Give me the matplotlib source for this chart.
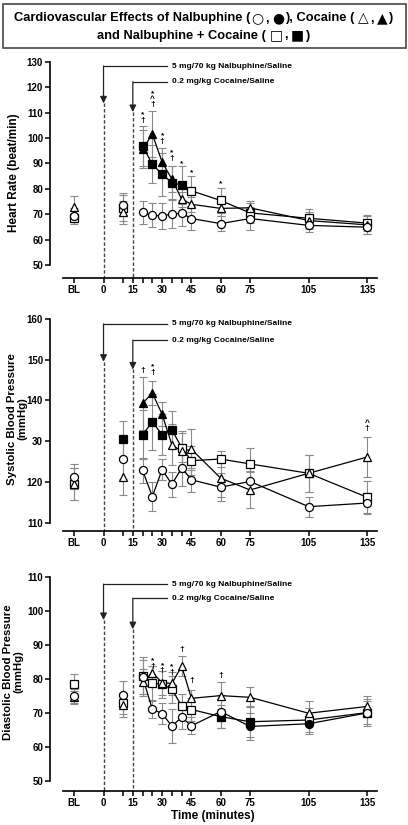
import matplotlib
matplotlib.use('Agg')
import matplotlib.pyplot as plt
from matplotlib.patches import Rectangle

plt.rcParams['font.family'] = ['Liberation Sans', 'DejaVu Sans']
plt.rcParams['font.weight'] = 'bold'

# time points (BL drawn at -15 min)
times = [-15, 10, 20, 25, 30, 35, 40, 45, 60, 75, 105, 135]
tick_pos = [-15, 0, 10, 15, 20, 25, 30, 35, 40, 45, 60, 75, 105, 135]
tick_lab = ['BL', '0', '', '15', '', '', '30', '', '', '45', '60', '75', '105', '135']

# heart rate (beat/min)
hr_nal = [69.3, 73.7, 70.7, 69.6, 69.3, 70.1, 70.4, 68.3, 66.3, 68.3, 65.6, 64.9]
hr_nal_se = [3, 4.5, 4.5, 4.8, 5.3, 5.5, 5, 4.5, 3, 4.5, 2.5, 2.5]
hr_nal_fill = [0, 0, 0, 0, 0, 0, 0, 0, 0, 0, 0, 0]
hr_coc = [73.0, 70.7, 95.5, 101.5, 90.5, 83.8, 75.9, 73.9, 72.3, 72.5, 67.5, 65.8]
hr_coc_se = [4, 4.5, 7.5, 9, 5.5, 5, 3, 3, 3, 2.5, 3.5, 3.5]
hr_coc_fill = [0, 0, 1, 1, 1, 1, 0, 0, 0, 0, 0, 0]
hr_mix = [68.4, 72.4, 96.8, 89.6, 85.7, 82.4, 81.5, 79.2, 75.4, 70.5, 68.4, 66.5]
hr_mix_se = [1.5, 5, 8, 7.5, 8.5, 6.5, 7.5, 6, 5, 4, 3.5, 3]
hr_mix_fill = [0, 0, 1, 1, 1, 1, 1, 0, 0, 0, 0, 0]
hr_marks = [(20, 108.0, '*\n†'), (25, 115.2, '*\n^\n†'), (30, 99.7, '*\n†'),
            (35, 93.0, '*\n†'), (40, 89.8, '*'), (45, 86.3, '*'), (60, 82.0, '*')]

# systolic blood pressure (mmHg)
sbp_nal = [121.3, 125.6, 122.8, 116.4, 123.0, 119.4, 123.4, 120.5, 118.7, 120.1, 113.9, 114.8]
sbp_nal_se = [3, 5, 3, 3.5, 2.5, 3, 4.5, 3, 3.5, 2.5, 2.5, 2.5]
sbp_nal_fill = [0, 0, 0, 0, 0, 0, 0, 0, 0, 0, 0, 0]
sbp_coc = [119.5, 121.3, 139.3, 141.8, 136.6, 129.1, 127.5, 128.0, 120.9, 118.0, 122.1, 126.1]
sbp_coc_se = [4, 4.5, 6.5, 3, 3, 5, 5, 5, 4.5, 4.5, 4.5, 5]
sbp_coc_fill = [0, 0, 1, 1, 1, 0, 0, 0, 0, 0, 0, 0]
sbp_mix = [119.5, 130.5, 131.6, 134.7, 131.6, 132.8, 128.4, 125.2, 125.6, 124.4, 122.1, 116.2]
sbp_mix_se = [4, 4.5, 6, 7, 5, 4.5, 3.5, 3.5, 2, 4, 4.5, 4]
sbp_mix_fill = [0, 1, 1, 1, 1, 1, 0, 0, 0, 0, 0, 0]
sbp_marks = [(20, 147.3, '†'), (25, 147.6, '*\n†'), (135, 133.7, '^\n†')]

# diastolic blood pressure (mmHg)
dbp_nal = [75.0, 75.3, 80.5, 71.1, 69.8, 66.1, 68.7, 66.2, 70.4, 66.0, 66.8, 70.0]
dbp_nal_se = [2, 4, 5, 2.5, 3, 5, 3.5, 2.5, 5, 4, 3, 4]
dbp_nal_fill = [0, 0, 0, 0, 0, 0, 0, 0, 0, 1, 1, 0]
dbp_coc = [74.6, 72.3, 79.0, 81.9, 78.9, 78.7, 83.8, 74.3, 75.1, 74.6, 69.9, 71.9]
dbp_coc_se = [2, 3.5, 4, 2, 3.5, 3.5, 3, 2.5, 4, 3, 3.5, 3]
dbp_coc_fill = [0, 0, 0, 0, 0, 0, 0, 0, 0, 0, 0, 0]
dbp_mix = [78.4, 72.8, 81.0, 78.9, 78.4, 77.0, 72.0, 71.0, 68.9, 67.4, 67.9, 70.1]
dbp_mix_se = [3, 3, 5.5, 5, 4, 4, 3.5, 3.5, 3.5, 4.5, 3.5, 3.5]
dbp_mix_fill = [0, 0, 0, 0, 0, 0, 0, 0, 1, 1, 0, 1]
dbp_marks = [(25, 84.5, '*\n†'), (30, 83.2, '*\n†'), (35, 82.8, '*\n†'),
             (40, 88.6, '†'), (45, 79.5, '†'), (60, 81.0, '†')]

arrow1 = '5 mg/70 kg Nalbuphine/Saline'
arrow2 = '0.2 mg/kg Cocaine/Saline'

# title pieces: (text, uses symbol font, space after)
title1 = [('Cardiovascular Effects of Nalbuphine (', 0, 0), ('○', 1, 0), (',', 0, 1),
          ('●', 1, 0), ('), Cocaine (', 0, 1), ('△', 1, 0), (',', 0, 1), ('▲', 1, 0), (')', 0, 0)]
title2 = [('and Nalbuphine + Cocaine (', 0, 1), ('□', 1, 0), (',', 0, 1), ('■', 1, 0), (')', 0, 0)]

W, H = 408, 825
fig = plt.figure(figsize=(W / 100, H / 100), dpi=100)


def px_axes(top, bottom):
    # axes rectangle from pixel rows
    return fig.add_axes([50 / W, 1 - bottom / H, 327 / W, (bottom - top) / H])


def draw_series(ax, y, se, fill, marker, ms):
    ax.errorbar(times, y, yerr=se, fmt='none', ecolor='#8a8a8a', elinewidth=0.8,
                capsize=3, capthick=0.8, zorder=2)
    ax.plot(times[2:], y[2:], color='black', lw=0.9, zorder=3)
    for t, v, f in zip(times, y, fill):
        ax.plot(t, v, marker=marker, ms=ms, mec='black', mew=0.9,
                mfc='black' if f else 'white', zorder=4, clip_on=False)


def setup(ax, ylo, yhi, ystep, ybottom, ytop, ylabels=None):
    ax.set_xlim(-27.4, 140)
    ax.set_ylim(ybottom, ytop)
    for s in ['top', 'right']:
        ax.spines[s].set_visible(False)
    ax.spines['left'].set_bounds(ylo, yhi)
    ax.spines['bottom'].set_bounds(-20.7, 140)
    for s in ['left', 'bottom']:
        ax.spines[s].set_linewidth(1.2)
    yt = list(range(ylo, yhi + 1, ystep))
    ax.set_yticks(yt)
    if ylabels:
        ax.set_yticklabels(ylabels)
    ax.set_xticks(tick_pos)
    ax.set_xticklabels(tick_lab)
    ax.tick_params(axis='both', labelsize=7, width=1.1, length=3.5, pad=1.5)


def arrows(ax, h1, t1, h2, t2, ybottom):
    for x, h, t, lab in [(0, h1, t1, arrow1), (15, h2, t2, arrow2)]:
        ax.plot([x, 32.5], [h, h], color='#222', lw=0.9, zorder=1)
        ax.annotate('', xy=(x, t), xytext=(x, h),
                    arrowprops=dict(arrowstyle='-|>', color='#222', lw=0.9,
                                    mutation_scale=10, shrinkA=0, shrinkB=0))
        ax.plot([x, x], [t, ybottom], color='#444', lw=1.0, ls=(0, (2.5, 1.5)), zorder=1)
        ax.text(35, h, lab, fontsize=6, va='center', ha='left')


def marks(ax, lst):
    for t, v, s in lst:
        ax.text(t, v, s, fontsize=6, ha='center', va='center', linespacing=0.62)


panels = [
    (61.7 - 0.5 * 2.54, 278, 50, 130, 10, 44.9, 130.5, None,
     (hr_nal, hr_nal_se, hr_nal_fill), (hr_coc, hr_coc_se, hr_coc_fill),
     (hr_mix, hr_mix_se, hr_mix_fill), hr_marks, (128.3, 113.6, 122.1, 110.2)),
    (319 - 0.3 * 4.073, 530.7, 110, 160, 10, 108.0, 160.3,
     ['110', '120', '30', '140', '150', '160'],
     (sbp_nal, sbp_nal_se, sbp_nal_fill), (sbp_coc, sbp_coc_se, sbp_coc_fill),
     (sbp_mix, sbp_mix_se, sbp_mix_fill), sbp_marks, (158.8, 149.5, 154.8, 147.6)),
    (577.3 - 0.3 * 3.39, 790.7, 50, 110, 10, 47.05, 110.3, None,
     (dbp_nal, dbp_nal_se, dbp_nal_fill), (dbp_coc, dbp_coc_se, dbp_coc_fill),
     (dbp_mix, dbp_mix_se, dbp_mix_fill), dbp_marks, (108.0, 97.4, 103.8, 94.7)),
]

for (top, bot, ylo, yhi, ystep, yb, ytp, ylabs, nal, coc, mix, mk, arr) in panels:
    ax = px_axes(top, bot)
    setup(ax, ylo, yhi, ystep, yb, ytp, ylabs)
    arrows(ax, arr[0], arr[1], arr[2], arr[3], yb)
    draw_series(ax, *mix, 's', 5.2)
    draw_series(ax, *coc, '^', 6.2)
    draw_series(ax, *nal, 'o', 5.8)
    marks(ax, mk)

fig.text(14 / W, 1 - 173 / H, 'Heart Rate (beat/min)', rotation=90, ha='center',
         va='center', fontsize=8.5)
fig.text(17.5 / W, 1 - 419 / H, 'Systolic Blood Pressure\n(mmHg)', rotation=90,
         ha='center', va='center', fontsize=8.2, multialignment='center', linespacing=1.05)
fig.text(13 / W, 1 - 672 / H, 'Diastolic Blood Pressure\n(mmHg)', rotation=90,
         ha='center', va='center', fontsize=8.2, multialignment='center', linespacing=1.05)
fig.text(213 / W, 1 - 816.5 / H, 'Time (minutes)', ha='center', va='center', fontsize=8.5)

# title box
fig.patches.append(Rectangle((3 / W, 1 - 48 / H), 403 / W, 44 / H, transform=fig.transFigure,
                             fill=False, edgecolor='#555555', lw=1.3))

renderer = fig.canvas.get_renderer()


def title_line(parts, ypx, size=9.3):
    space = 0.278 * size * 100 / 72
    objs = []
    x = 0.0
    for s, sym, sp in parts:
        fam = ['DejaVu Sans'] if sym else ['Liberation Sans', 'DejaVu Sans']
        t = fig.text(0, 1 - ypx / H, s, fontsize=size * (1.08 if sym else 1), family=fam,
                     ha='left', va='center')
        w = t.get_window_extent(renderer=renderer).width
        objs.append((t, x))
        x += w + (space if sp else 1.0)
    start = 204 - x / 2
    for t, off in objs:
        t.set_x((start + off) / W)


title_line(title1, 18.5)
title_line(title2, 35.5)

fig.savefig('out.png', dpi=100)
